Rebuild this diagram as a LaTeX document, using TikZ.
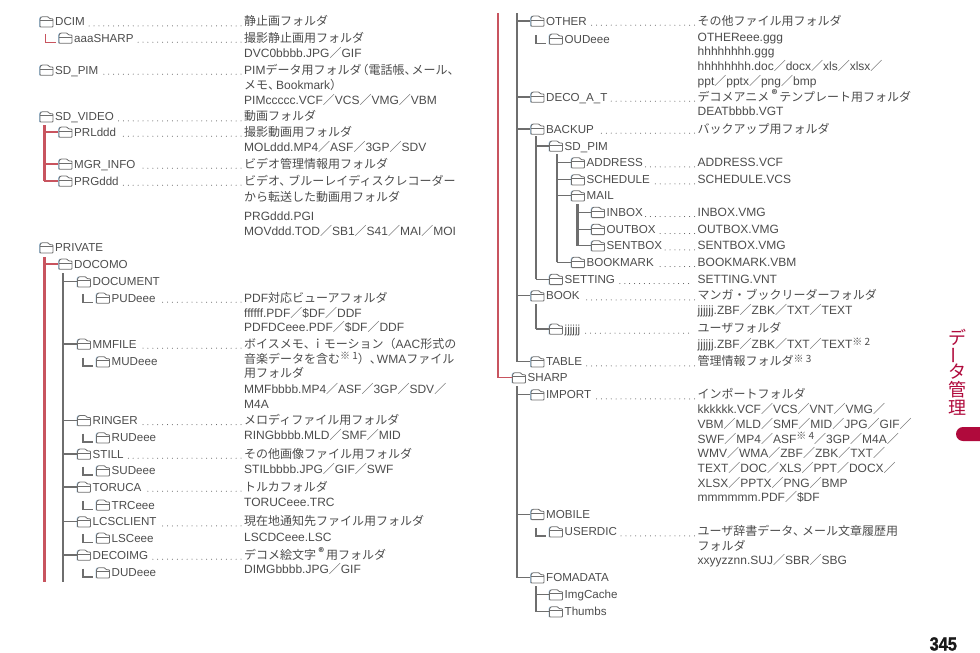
\documentclass[tikz,border=0pt]{standalone}
\usepackage{fontspec}
\setmainfont{Liberation Sans}
\newfontfamily\jfont{Noto Sans CJK JP}
\newfontfamily\pnum[FakeBold=1.5,UprightFont=* Bold]{Liberation Sans}
\usetikzlibrary{calc}
\definecolor{ink}{HTML}{4C4C4C}
\definecolor{tgray}{HTML}{6E6E6E}
\definecolor{tred}{HTML}{C8545F}
\definecolor{crim}{HTML}{B00A3C}
\definecolor{fringe}{HTML}{A4C8E4}
\newcommand\J[1]{{\jfont #1}}
\newcommand\Sl{{\jfont ／}}
\newcommand\Sm[1]{\raisebox{3.5pt}{\fontsize{10}{10}\selectfont\jfont #1}}
\newcommand\Rg{\makebox[10pt]{\raisebox{3pt}{\fontsize{11}{11}\selectfont\bfseries\jfont ®}}}
\tikzset{
  lab/.style={anchor=base west,inner sep=0pt,text=ink,font=\fontsize{11.6}{14}\selectfont},
  txt/.style={anchor=base west,inner sep=0pt,text=ink,font=\fontsize{12}{14}\selectfont},
  fic/.style={inner sep=0pt,minimum width=14pt,minimum height=10pt},
  ficon/.style={draw=tgray,line width=0.85pt,line join=round},
  ficonb/.style={draw=fringe,line width=1pt,line join=round},
  leader/.style={draw=ink,line width=1pt,line cap=round,dash pattern=on 0pt off 4.9pt},
  rtrunk/.style={draw=tred,line width=3pt},
  rbranch/.style={draw=tred,line width=1.2pt},
  gtrunk/.style={draw=tgray,line width=2.4pt},
  gthin/.style={draw=tgray,line width=1.6pt},
  gbranch/.style={draw=tgray,line width=1.2pt},
  lconn/.style={draw=tgray,line width=1.4pt},
  lred/.style={draw=tred,line width=1.4pt},
}
% name, icon x, row y, label
\newcommand\fold[4]{%
  \node[fic] (#1-i) at ({#2+7},#3) {};
  \node[lab] (#1) at ({#2+15.5},{#3+4.2}) {#4};
  \draw[ficonb,shift={(#2-0.5,#3)},rounded corners=0.8pt] (0.5,5.3) -- (0.5,-3) -- (2,-5);
  \draw[ficon,shift={(#2,#3)},rounded corners=0.8pt] (0.5,5.3) -- (0.5,-3) -- (2,-5) -- (8.5,-5) -- (10.2,-3) -- (13.5,-3) -- (13.5,5.3) -- cycle;
  \draw[ficon,shift={(#2,#3)}] (0.5,-1) -- (13.5,-1);
}
% name, x, y, text
\newcommand\tx[4]{\node[txt] (#1) at (#2,{#3+4.2}) {#4};}
\newcommand\lead[2]{\draw[leader] ([xshift=-3pt]#2.base west |- #1.base east) -- ([xshift=2.5pt]#1.base east);}
\newcommand\leadx[2]{\draw[leader] ([xshift=-9pt]#2.base west |- #1.base east) -- ([xshift=2.5pt]#1.base east);}
\newcommand\br[3]{\draw[#1] (#2 |- #3-i.west) -- (#3-i.west);}
\newcommand\lc[2]{\draw[#1] ([shift={(-13,-4.2)}]#2-i.west) -- ([shift={(-13,4.4)}]#2-i.west) -- ([shift={(-2.8,4.4)}]#2-i.west);}
\begin{document}
\begin{tikzpicture}[x=1pt,y=-1pt]
\useasboundingbox (0,0) rectangle (980,653);
% ---------- left column
\fold{dcim}{39.5}{21.7}{DCIM}
\tx{d1}{244}{21.7}{\J{静止画フォルダ}}
\fold{aaa}{58.5}{38}{aaaSHARP}
\tx{d2}{244}{38}{\J{撮影静止画用フォルダ}}
\tx{d3}{244}{53}{DVC0bbbb.JPG\Sl GIF}
\fold{sdpim}{39.5}{70}{SD\_PIM}
\tx{d4}{244}{70}{PIM\J{データ用フォルダ}\hspace{-5pt}\J{（電話帳、}\hspace{-5pt}\J{メール、}}
\tx{d5}{244}{85}{\J{メモ、}\hspace{-4pt}Bookmark\J{）}}
\tx{d6}{244}{100}{PIMccccc.VCF\Sl VCS\Sl VMG\Sl VBM}
\fold{sdvideo}{39.5}{116.7}{SD\_VIDEO}
\tx{d7}{244}{116.7}{\J{動画フォルダ}}
\fold{prl}{58.5}{132}{PRLddd}
\tx{d8}{244}{132}{\J{撮影動画用フォルダ}}
\tx{d9}{244}{147.7}{MOLddd.MP4\Sl ASF\Sl 3GP\Sl SDV}
\fold{mgr}{58.5}{164}{MGR\_INFO}
\tx{d10}{244}{164}{\J{ビデオ管理情報用フォルダ}}
\fold{prg}{58.5}{181}{PRGddd}
\tx{d11}{244}{181}{\J{ビデオ、}\hspace{-3pt}\J{ブルーレイディスクレコーダー}}
\tx{d12}{244}{197}{\J{から転送した動画用フォルダ}}
\tx{d13}{244}{216.7}{PRGddd.PGI}
\tx{d14}{244}{231}{MOVddd.TOD\Sl SB1\Sl S41\Sl MAI\Sl MOI}
\fold{private}{39.5}{247.7}{PRIVATE}
\fold{docomo}{58.5}{264}{DOCOMO}
\fold{document}{77}{281.7}{DOCUMENT}
\fold{pud}{96}{298}{PUDeee}
\tx{d15}{244}{298}{PDF\J{対応ビューアフォルダ}}
\tx{d16}{244}{313}{ffffff.PDF\Sl\$DF\Sl DDF}
\tx{d17}{244}{327.7}{PDFDCeee.PDF\Sl\$DF\Sl DDF}
\fold{mmfile}{77}{344}{MMFILE}
\tx{d18}{244}{344}{\J{ボイスメモ、}\hspace{-4pt}\J{ｉモーション（}AAC\J{形式の}}
\fold{mud}{96}{361.7}{MUDeee}
\tx{d19}{244}{359}{\J{音楽データを含む}\Sm{※ 1}\J{）、}\hspace{-5pt}WMA\J{ファイル}}
\tx{d20}{244}{373}{\J{用フォルダ}}
\tx{d21}{244}{389}{MMFbbbb.MP4\Sl ASF\Sl 3GP\Sl SDV\Sl}
\tx{d22}{244}{404}{M4A}
\fold{ringer}{77}{420.5}{RINGER}
\tx{d23}{244}{420.5}{\J{メロディファイル用フォルダ}}
\fold{rud}{96}{437.7}{RUDeee}
\tx{d24}{244}{435}{RINGbbbb.MLD\Sl SMF\Sl MID}
\fold{still}{77}{454}{STILL}
\tx{d25}{244}{454}{\J{その他画像ファイル用フォルダ}}
\fold{sud}{96}{470.7}{SUDeee}
\tx{d26}{244}{469}{STILbbbb.JPG\Sl GIF\Sl SWF}
\fold{toruca}{77}{487}{TORUCA}
\tx{d27}{244}{487}{\J{トルカフォルダ}}
\fold{trc}{96}{505}{TRCeee}
\tx{d28}{244}{502.7}{TORUCeee.TRC}
\fold{lcs}{77}{521.7}{LCSCLIENT}
\tx{d29}{244}{521.7}{\J{現在地通知先ファイル用フォルダ}}
\fold{lsc}{96}{538}{LSCeee}
\tx{d30}{244}{537}{LSCDCeee.LSC}
\fold{decoimg}{77}{555}{DECOIMG}
\tx{d31}{244}{555}{\J{デコメ絵文字}\Rg\J{用フォルダ}}
\fold{dud}{96}{572.7}{DUDeee}
\tx{d32}{244}{569}{DIMGbbbb.JPG\Sl GIF}
% leaders
\lead{dcim}{d1}\lead{aaa}{d2}\lead{sdpim}{d4}\lead{sdvideo}{d7}\lead{prl}{d8}\lead{mgr}{d10}\lead{prg}{d11}
\lead{pud}{d15}\lead{mmfile}{d18}\lead{ringer}{d23}\lead{still}{d25}\lead{toruca}{d27}\lead{lcs}{d29}\lead{decoimg}{d31}
% tree left
\lc{lred}{aaa}
\coordinate (tv) at (44,125);
\draw[rtrunk] (tv) -- (tv |- prg-i.west);
\br{rbranch}{tv}{prl}\br{rbranch}{tv}{mgr}\br{rbranch}{tv}{prg}
\coordinate (tp) at (44,257);
\coordinate (tpe) at (44,582);
\draw[rtrunk] (tp) -- (tpe);
\br{rbranch}{tp}{docomo}
\coordinate (td) at (63,273);
\coordinate (tde) at (63,582);
\draw[gtrunk] (td) -- (tde);
\br{gbranch}{td}{document}\br{gbranch}{td}{mmfile}\br{gbranch}{td}{ringer}\br{gbranch}{td}{still}\br{gbranch}{td}{toruca}\br{gbranch}{td}{lcs}\br{gbranch}{td}{decoimg}
\lc{lconn}{pud}\lc{lconn}{mud}\lc{lconn}{rud}\lc{lconn}{sud}\lc{lconn}{trc}\lc{lconn}{lsc}\lc{lconn}{dud}
% ---------- right column
\fold{other}{530.5}{21}{OTHER}
\tx{e1}{697.5}{21}{\J{その他ファイル用フォルダ}}
\fold{oud}{549}{39}{OUDeee}
\tx{e2}{697.5}{37.3}{OTHEReee.ggg}
\tx{e3}{697.5}{51.7}{hhhhhhhh.ggg}
\tx{e4}{697.5}{66}{hhhhhhhh.doc\Sl docx\Sl xls\Sl xlsx\Sl}
\tx{e5}{697.5}{81}{ppt\Sl pptx\Sl png\Sl bmp}
\fold{decoat}{530.5}{97}{DECO\_A\_T}
\tx{e6}{697.5}{97}{\J{デコメアニメ}\Rg\J{テンプレート用フォルダ}}
\tx{e7}{697.5}{111.7}{DEATbbbb.VGT}
\fold{backup}{530.5}{129}{BACKUP}
\tx{e8}{697.5}{129}{\J{バックアップ用フォルダ}}
\fold{bsdpim}{549}{146}{SD\_PIM}
\fold{address}{571}{162.7}{ADDRESS}
\tx{e9}{697.5}{162.7}{ADDRESS.VCF}
\fold{schedule}{571}{179.7}{SCHEDULE}
\tx{e10}{697.5}{179.7}{SCHEDULE.VCS}
\fold{mail}{571}{195.7}{MAIL}
\fold{inbox}{591}{212.3}{INBOX}
\tx{e11}{697.5}{212.3}{INBOX.VMG}
\fold{outbox}{591}{229.3}{OUTBOX}
\tx{e12}{697.5}{229.3}{OUTBOX.VMG}
\fold{sentbox}{591}{245.7}{SENTBOX}
\tx{e13}{697.5}{245.7}{SENTBOX.VMG}
\fold{bookmark}{571}{262.3}{BOOKMARK}
\tx{e14}{697.5}{262.3}{BOOKMARK.VBM}
\fold{setting}{549}{279.3}{SETTING}
\tx{e15}{697.5}{279.3}{SETTING.VNT}
\fold{book}{530.5}{295.7}{BOOK}
\tx{e16}{697.5}{295.7}{\J{マンガ・ブックリーダーフォルダ}}
\tx{e17}{697.5}{310.7}{jjjjjj.ZBF\Sl ZBK\Sl TXT\Sl TEXT}
\fold{jjj}{549}{329}{jjjjjj}
\tx{e18}{697.5}{328.5}{\J{ユーザフォルダ}}
\tx{e19}{697.5}{344.3}{jjjjjj.ZBF\Sl ZBK\Sl TXT\Sl TEXT\Sm{※ 2}}
\fold{table}{530.5}{361.7}{TABLE}
\tx{e20}{697.5}{361.7}{\J{管理情報フォルダ}\Sm{※ 3}}
\fold{sharp}{512}{377.7}{SHARP}
\fold{import}{530.5}{394.7}{IMPORT}
\tx{e21}{697.5}{394.7}{\J{インポートフォルダ}}
\tx{e22}{697.5}{409.3}{kkkkkk.VCF\Sl VCS\Sl VNT\Sl VMG\Sl}
\tx{e23}{697.5}{424.3}{VBM\Sl MLD\Sl SMF\Sl MID\Sl JPG\Sl GIF\Sl}
\tx{e24}{697.5}{439}{SWF\Sl MP4\Sl ASF\Sm{※ 4}\Sl 3GP\Sl M4A\Sl}
\tx{e25}{697.5}{453.7}{WMV\Sl WMA\Sl ZBF\Sl ZBK\Sl TXT\Sl}
\tx{e26}{697.5}{468.7}{TEXT\Sl DOC\Sl XLS\Sl PPT\Sl DOCX\Sl}
\tx{e27}{697.5}{483.3}{XLSX\Sl PPTX\Sl PNG\Sl BMP}
\tx{e28}{697.5}{497.7}{mmmmmm.PDF\Sl\$DF}
\fold{mobile}{530.5}{514.3}{MOBILE}
\fold{userdic}{549}{531.7}{USERDIC}
\tx{e29}{697.5}{531.7}{\J{ユーザ辞書データ、}\hspace{-3pt}\J{メール文章履歴用}}
\tx{e30}{697.5}{546}{\J{フォルダ}}
\tx{e31}{697.5}{560.7}{xxyyzznn.SUJ\Sl SBR\Sl SBG}
\fold{fomadata}{530.5}{577.7}{FOMADATA}
\fold{imgcache}{549}{594.7}{ImgCache}
\fold{thumbs}{549}{611.7}{Thumbs}
% leaders
\lead{other}{e1}\lead{decoat}{e6}\lead{backup}{e8}\lead{address}{e9}\lead{schedule}{e10}\lead{inbox}{e11}\lead{outbox}{e12}\lead{sentbox}{e13}\lead{bookmark}{e14}
\leadx{setting}{e15}\lead{book}{e16}\leadx{jjj}{e18}\lead{table}{e20}\lead{import}{e21}\lead{userdic}{e29}
% tree right
\coordinate (ra) at (498,13);
\draw[rtrunk,line width=2.2pt] (ra) -- (ra |- sharp-i.west);
\br{rbranch}{ra}{sharp}
\coordinate (rb) at (516.7,13);
\draw[gtrunk] (rb) -- (rb |- table-i.west);
\br{gbranch}{rb}{other}\br{gbranch}{rb}{decoat}\br{gbranch}{rb}{backup}\br{gbranch}{rb}{book}\br{gbranch}{rb}{table}
\lc{lconn}{oud}
\coordinate (rc) at (535.7,136);
\draw[gthin] (rc) -- (rc |- setting-i.west);
\br{gbranch}{rc}{bsdpim}\br{gbranch}{rc}{setting}
\coordinate (rd) at (556.7,154);
\draw[gthin] (rd) -- (rd |- bookmark-i.west);
\br{gbranch}{rd}{address}\br{gbranch}{rd}{schedule}\br{gbranch}{rd}{mail}\br{gbranch}{rd}{bookmark}
\coordinate (re) at (577.3,204);
\draw[gtrunk] (re) -- (re |- sentbox-i.west);
\br{gbranch}{re}{inbox}\br{gbranch}{re}{outbox}\br{gbranch}{re}{sentbox}
\coordinate (rf) at (535.7,304);
\draw[gthin] (rf) -- (rf |- jjj-i.west);
\br{gbranch}{rf}{jjj}
\coordinate (rg) at (516.7,386);
\draw[gtrunk] (rg) -- (rg |- fomadata-i.west);
\br{gbranch}{rg}{import}\br{gbranch}{rg}{mobile}\br{gbranch}{rg}{fomadata}
\lc{lconn}{userdic}
\coordinate (rh) at (535.7,586);
\draw[gthin] (rh) -- (rh |- thumbs-i.west);
\br{gbranch}{rh}{imgcache}\br{gbranch}{rh}{thumbs}
% ---------- thumb tab and page number
\tikzset{side/.style={inner sep=0pt,text=crim,font=\fontsize{18}{18}\selectfont\jfont}}
\node[side] (s1) at (957,337) {デ};
\node[side,rotate=-90,yscale=-1] (s2) at (957,355) {ー};
\node[side] (s3) at (957,372) {タ};
\node[side] (s4) at (957,390) {管};
\node[side] (s5) at (957,408) {理};
\fill[crim,rounded corners=7pt] (956,427) rectangle (995,441);
\node[anchor=base west,inner sep=0pt,text=black!90,font=\fontsize{19}{20}\selectfont\pnum,xscale=0.86] (pg) at (929.5,650.5) {345};
\end{tikzpicture}
\end{document}
